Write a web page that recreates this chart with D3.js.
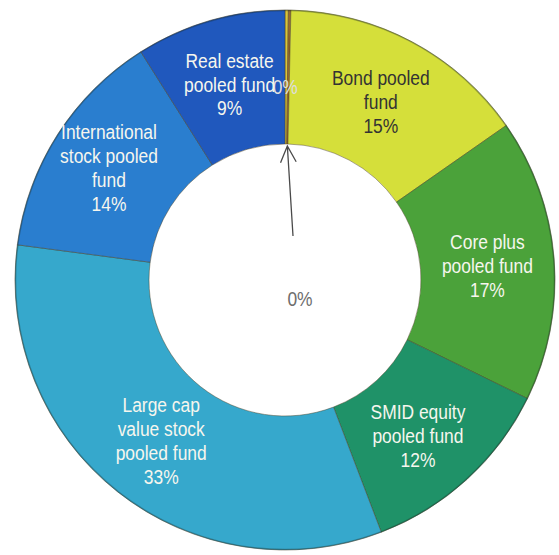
<!DOCTYPE html>
<html>
<head>
<meta charset="utf-8">
<script src="https://cdn.jsdelivr.net/npm/d3@7"></script>
<style>
  html, body { margin: 0; padding: 0; background: #ffffff; }
  svg { display: block; }
  text { font-family: "Liberation Sans", Arial, sans-serif; }
</style>
</head>
<body>
<svg id="chart" width="559" height="555"></svg>
<script>
// Fund allocation (percent of total), clockwise from 12 o'clock
const categories = [
  "Other fund 1",
  "Other fund 2",
  "Bond pooled fund",
  "Core plus pooled fund",
  "SMID equity pooled fund",
  "Large cap value stock pooled fund",
  "International stock pooled fund",
  "Real estate pooled fund"
];
const values = [0.2, 0.15, 15, 17, 12, 33, 14, 9];

// Label text lines (the rounded percentage is appended as the last line)
const labelLines = [
  [],
  [],
  ["Bond pooled", "fund"],
  ["Core plus", "pooled fund"],
  ["SMID equity", "pooled fund"],
  ["Large cap", "value stock", "pooled fund"],
  ["International", "stock pooled", "fund"],
  ["Real estate", "pooled fund"]
];

const sliceColors = ["#d8c43c", "#9a6a2c", "#d5df3a", "#4ba23a", "#1f9268", "#36a8cc", "#2a7ecf", "#2058bd"];
const labelColors = ["#dedede", "#6e6e6e", "#333333", "#f6f6ee", "#f6f6ee", "#f6f6ee", "#f6f6ee", "#f6f6ee"];

const cx = 285, cy = 280;
const outerR = 270, innerR = 136;
const lineGap = 24;
const fontSize = 21;
const squeeze = 0.83;

// small per-label nudges away from the centroid
const nudge = [[-1, 9], [15, 18], [0, 0], [0, 1], [-4, 6], [2, 1], [-5, -3], [1, -1]];

const data = categories.map((c, i) => ({ name: c, value: values[i], lines: labelLines[i], i }));

const svg = d3.select("#chart");
const g = svg.append("g").attr("transform", `translate(${cx},${cy})`);

const pie = d3.pie().sort(null).value(d => d.value).startAngle(0).endAngle(2 * Math.PI);
const arcs = pie(data);

const arc = d3.arc().innerRadius(innerR).outerRadius(outerR);

// Ring slices
g.selectAll("path.slice")
  .data(arcs)
  .join("path")
  .attr("class", "slice")
  .attr("d", arc)
  .attr("fill", d => sliceColors[d.data.i])
  .attr("stroke", "rgba(70,60,30,0.45)")
  .attr("stroke-width", 1);

// Soft rim along the outer edge
g.append("circle")
  .attr("r", outerR - 0.5)
  .attr("fill", "none")
  .attr("stroke", "rgba(20,40,40,0.3)")
  .attr("stroke-width", 1.5);

const pct = v => d3.format(".0f")(v) + "%";

// Multi-line labels
function drawLabel(x, y, lines, color) {
  const n = lines.length;
  const t = g.append("g").attr("transform", `translate(${x},${y}) scale(${squeeze},1)`);
  lines.forEach((s, k) => {
    t.append("text")
      .attr("x", 0)
      .attr("y", -(n - 1) * lineGap / 2 + k * lineGap + 7.5)
      .attr("text-anchor", "middle")
      .attr("font-size", fontSize)
      .attr("fill", color)
      .text(s);
  });
}

arcs.forEach(d => {
  const i = d.data.i;
  const [x, y] = arc.centroid(d);
  const lines = d.data.lines.concat([pct(d.data.value)]);
  const [nx, ny] = nudge[i];
  if (i === 1) {
    // tiny slice: value moved into the hole with a leader arrow
    const lx = nx, ly = ny;
    drawLabel(lx, ly, lines, labelColors[i]);
    const a = (d.startAngle + d.endAngle) / 2;
    const tip = [innerR * Math.sin(a), -innerR * Math.cos(a) + 2];
    const start = [lx - 7, ly - 62];
    const dx = tip[0] - start[0], dy = tip[1] - start[1];
    const len = Math.hypot(dx, dy);
    const ux = dx / len, uy = dy / len;
    const head = 18, spread = 0.45;
    const rot = (vx, vy, t) => [vx * Math.cos(t) - vy * Math.sin(t), vx * Math.sin(t) + vy * Math.cos(t)];
    const l1 = rot(-ux, -uy, spread), l2 = rot(-ux, -uy, -spread);
    g.append("path")
      .attr("d", `M${start[0]},${start[1]}L${tip[0]},${tip[1]}` +
                 `M${tip[0] + l1[0] * head},${tip[1] + l1[1] * head}L${tip[0]},${tip[1]}` +
                 `L${tip[0] + l2[0] * head},${tip[1] + l2[1] * head}`)
      .attr("fill", "none")
      .attr("stroke", "#4a4a4a")
      .attr("stroke-width", 1.3);
  } else {
    drawLabel(x + nx, y + ny, lines, labelColors[i]);
  }
});
</script>
</body>
</html>
